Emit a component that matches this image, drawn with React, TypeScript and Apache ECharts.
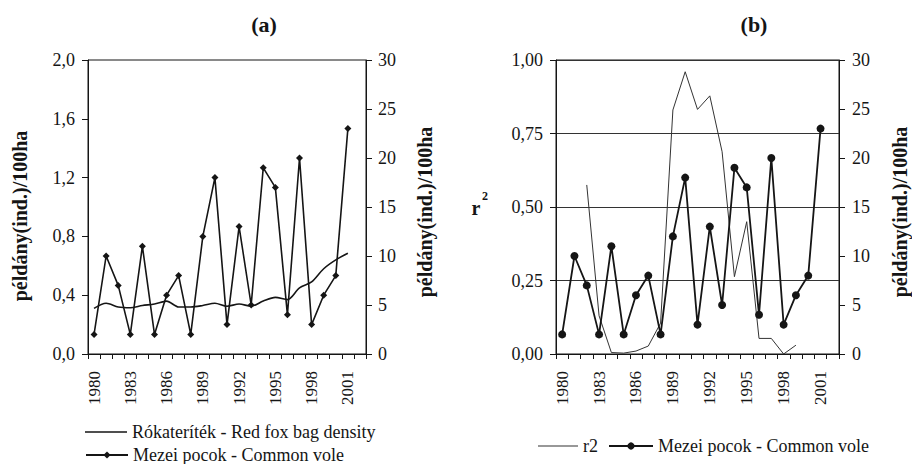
import React, { useEffect, useRef } from 'react';
import * as echarts from 'echarts';

const years = ['1980','1981','1982','1983','1984','1985','1986','1987','1988','1989','1990','1991','1992','1993','1994','1995','1996','1997','1998','1999','2000','2001','2002'];
const voleDensity = [2, 10, 7, 2, 11, 2, 6, 8, 2, 12, 18, 3, 13, 5, 19, 17, 4, 20, 3, 6, 8, 23];
const foxBagDensity = [0.31, 0.345, 0.32, 0.315, 0.33, 0.34, 0.36, 0.32, 0.32, 0.33, 0.345, 0.325, 0.34, 0.325, 0.36, 0.385, 0.37, 0.45, 0.49, 0.58, 0.64, 0.685];
const r2Values = [null, null, 0.575, 0.13, 0.005, 0.003, 0.01, 0.027, 0.105, 0.83, 0.96, 0.832, 0.878, 0.688, 0.263, 0.45, 0.053, 0.053, 0, 0.03];

const FONT = 'Liberation Serif';
const INK = '#151515';
const AXIS_NAME = 'példány(ind.)/100ha';
const legendLabels: Record<string, string> = {
  fox: 'Rókateríték - Red fox bag density',
  voleA: 'Mezei pocok - Common vole',
  r2: 'r2',
  voleB: 'Mezei pocok - Common vole',
};

const axisLine = { show: true, lineStyle: { color: INK, width: 1 } };
const axisLabel = (fmt?: (v: number) => string) => ({
  color: INK, fontFamily: FONT, fontSize: 18, margin: 13, formatter: fmt,
});
const legendText = { fontFamily: FONT, fontSize: 18, color: INK };

export default function App() {
  const ref = useRef<HTMLDivElement>(null);
  useEffect(() => {
    const chart = echarts.init(ref.current!, null, { renderer: 'svg' });
    const xAxisBase = (gridIndex: number) => ({
      type: 'category', gridIndex, data: years, boundaryGap: true,
      axisLine, axisTick: { show: true, interval: 0, length: 5, lineStyle: { color: INK } },
      axisLabel: { color: INK, fontFamily: FONT, fontSize: 17, rotate: 90, interval: 2, margin: 17 },
    });
    const legend = (name: string, left: number, top: number, width: number, line: number) => ({
      data: [line ? { name, icon: 'rect' } : name], left, top,
      itemWidth: width, itemHeight: line || 9,
      formatter: (n: string) => legendLabels[n],
      textStyle: legendText, selectedMode: false,
    });
    const vName = (x: number, y: number) => ({
      type: 'text', x, y, rotation: Math.PI / 2,
      style: { text: AXIS_NAME, font: `bold 20px ${FONT}`, fill: INK, textAlign: 'center', textVerticalAlign: 'middle' },
    });
    chart.setOption({
      animation: false,
      backgroundColor: '#fff',
      textStyle: { fontFamily: FONT },
      grid: [
        { left: 88, top: 60, width: 278, height: 294, show: true, borderColor: INK, borderWidth: 1, backgroundColor: 'transparent' },
        { left: 556, top: 60, width: 283, height: 294, show: true, borderColor: INK, borderWidth: 1, backgroundColor: 'transparent' },
      ],
      xAxis: [xAxisBase(0), xAxisBase(1)],
      yAxis: [
        {
          type: 'value', gridIndex: 0, min: 0, max: 2, interval: 0.4, position: 'left',
          axisLine, axisTick: { show: true, length: 6, lineStyle: { color: INK } }, splitLine: { show: false },
          axisLabel: axisLabel((v) => v.toFixed(1).replace('.', ',')),
        },
        {
          type: 'value', gridIndex: 0, min: 0, max: 30, interval: 5, position: 'right',
          axisLine, axisTick: { show: true, length: 6, lineStyle: { color: INK } }, splitLine: { show: false },
          axisLabel: { ...axisLabel(), margin: 12 },
        },
        {
          type: 'value', gridIndex: 1, min: 0, max: 1, interval: 0.25, position: 'left',
          axisLine, axisTick: { show: true, length: 6, lineStyle: { color: INK } },
          splitLine: { show: true, lineStyle: { color: '#333', width: 1 } },
          axisLabel: axisLabel((v) => v.toFixed(2).replace('.', ',')),
        },
        {
          type: 'value', gridIndex: 1, min: 0, max: 30, interval: 5, position: 'right',
          axisLine, axisTick: { show: true, length: 6, lineStyle: { color: INK } }, splitLine: { show: false },
          axisLabel: axisLabel(),
        },
      ],
      legend: [
        legend('fox', 80, 418, 42, 1.6),
        legend('voleA', 80, 441, 42, 0),
        legend('r2', 533, 432, 40, 1),
        legend('voleB', 603, 432, 44, 0),
      ],
      graphic: [
        { type: 'text', x: 264, y: 24, style: { text: '(a)', font: `bold 22px ${FONT}`, fill: INK, textAlign: 'center', textVerticalAlign: 'middle' } },
        { type: 'text', x: 754, y: 24, style: { text: '(b)', font: `bold 22px ${FONT}`, fill: INK, textAlign: 'center', textVerticalAlign: 'middle' } },
        { type: 'text', x: 476, y: 208, style: { text: 'r', font: `bold 20px ${FONT}`, fill: INK, textAlign: 'center', textVerticalAlign: 'middle' } },
        { type: 'text', x: 485, y: 196, style: { text: '2', font: `bold 12px ${FONT}`, fill: INK, textAlign: 'center', textVerticalAlign: 'middle' } },
        vName(20, 216),
        vName(425, 212),
        vName(900, 212),
      ],
      series: [
        {
          name: 'fox', type: 'line', xAxisIndex: 0, yAxisIndex: 0, data: foxBagDensity,
          symbol: 'none', smooth: 0.3, lineStyle: { color: INK, width: 1.6 }, itemStyle: { color: INK },
        },
        {
          name: 'voleA', type: 'line', xAxisIndex: 0, yAxisIndex: 1, data: voleDensity,
          symbol: 'diamond', symbolSize: 7, lineStyle: { color: INK, width: 1.6 }, itemStyle: { color: INK },
        },
        {
          name: 'r2', type: 'line', xAxisIndex: 1, yAxisIndex: 2, data: r2Values,
          symbol: 'none', lineStyle: { color: '#333', width: 1 }, itemStyle: { color: '#333' },
        },
        {
          name: 'voleB', type: 'line', xAxisIndex: 1, yAxisIndex: 3, data: voleDensity,
          symbol: 'circle', symbolSize: 8, lineStyle: { color: INK, width: 1.8 }, itemStyle: { color: INK },
        },
      ],
    });
    return () => chart.dispose();
  }, []);
  return <div ref={ref} style={{ position: 'fixed', left: 0, top: 0, width: 912, height: 464, background: '#fff' }} />;
}
